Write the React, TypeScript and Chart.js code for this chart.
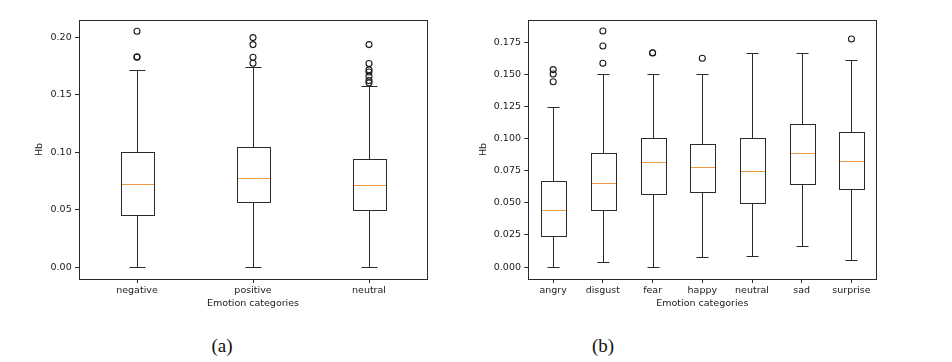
import React, { useEffect, useRef } from 'react';
import { Chart, registerables } from 'chart.js';
Chart.register(...registerables);

// ---- Panel (a) ----
const catsA = ['negative', 'positive', 'neutral'];
const q1A = [0.0452, 0.0562, 0.05];
const medA = [0.0722, 0.0777, 0.0716];
const q3A = [0.1, 0.1041, 0.0939];
const loA = [0, 0, 0];
const hiA = [0.1716, 0.1745, 0.1574];
const outA = [
  [0.2052, 0.1826, 0.183],
  [0.1997, 0.1936, 0.1826, 0.1774],
  [0.1936, 0.1771, 0.1716, 0.1698, 0.1661, 0.1623, 0.1603],
];

// ---- Panel (b) ----
const catsB = ['angry', 'disgust', 'fear', 'happy', 'neutral', 'sad', 'surprise'];
const q1B = [0.0244, 0.0441, 0.0568, 0.0584, 0.05, 0.0643, 0.0609];
const medB = [0.0441, 0.0654, 0.0817, 0.0776, 0.0747, 0.089, 0.0827];
const q3B = [0.0667, 0.089, 0.1001, 0.0955, 0.1001, 0.111, 0.1053];
const loB = [0, 0.0036, 0, 0.008, 0.0086, 0.0163, 0.0054];
const hiB = [0.1248, 0.15, 0.15, 0.15, 0.1665, 0.1665, 0.1608];
const outB = [
  [0.1536, 0.1502, 0.1442],
  [0.1837, 0.172, 0.1585],
  [0.1665, 0.1667],
  [0.1624],
  [],
  [],
  [0.1774],
];

const FONT = "'DejaVu Sans', sans-serif";
const INK = '#2a2a2a';
const TXT = '#1a1a1a';
const MEDIAN = '#f39a45';

type BoxProps = {
  cats: string[]; q1: number[]; med: number[]; q3: number[]; lo: number[]; hi: number[]; out: number[][];
  yMin: number; yMax: number; step: number; dec: number; barPct: number;
  left: number; width: number; padLeft: number; padRight: number; yWidth: number;
};

function BoxChart(p: BoxProps) {
  const ref = useRef<HTMLCanvasElement>(null);
  useEffect(() => {
    const canvas = ref.current!;
    const px = (v: number) => Math.round(v) + 0.5;
    const extras = {
      id: 'boxExtras',
      afterDatasetsDraw(chart: any) {
        const { ctx, chartArea, scales } = chart;
        const x = scales.x, y = scales.y;
        const meta = chart.getDatasetMeta(0);
        ctx.save();
        ctx.lineWidth = 1;
        p.cats.forEach((_c, i) => {
          const bar: any = meta.data[i];
          const half = bar.width / 2;
          const cx = px(x.getPixelForValue(i));
          const bl = px(cx - half), br = px(cx + half);
          const yq1 = px(y.getPixelForValue(p.q1[i]));
          const yq3 = px(y.getPixelForValue(p.q3[i]));
          const ylo = px(y.getPixelForValue(p.lo[i]));
          const yhi = px(y.getPixelForValue(p.hi[i]));
          const ymed = px(y.getPixelForValue(p.med[i]));
          const cap = Math.round(half / 2);
          ctx.strokeStyle = INK;
          ctx.beginPath();
          ctx.moveTo(cx, yq1); ctx.lineTo(cx, ylo);
          ctx.moveTo(cx, yq3); ctx.lineTo(cx, yhi);
          ctx.moveTo(cx - cap, ylo); ctx.lineTo(cx + cap, ylo);
          ctx.moveTo(cx - cap, yhi); ctx.lineTo(cx + cap, yhi);
          ctx.stroke();
          ctx.strokeRect(bl, yq3, br - bl, yq1 - yq3);
          ctx.strokeStyle = MEDIAN;
          ctx.beginPath();
          ctx.moveTo(bl + 0.5, ymed); ctx.lineTo(br - 0.5, ymed);
          ctx.stroke();
        });
        ctx.strokeStyle = INK;
        const l = px(chartArea.left), t = px(chartArea.top);
        const r = px(chartArea.right), b = px(chartArea.bottom);
        ctx.strokeRect(l, t, r - l, b - t);
        ctx.restore();
      },
    };
    const outliers: { x: string; y: number }[] = [];
    p.out.forEach((arr, i) => arr.forEach((v) => outliers.push({ x: p.cats[i], y: v })));
    const chart = new Chart(canvas, {
      type: 'bar',
      data: {
        labels: p.cats,
        datasets: [
          {
            type: 'bar',
            data: p.cats.map((_c, i) => [p.q1[i], p.q3[i]]),
            backgroundColor: 'rgba(255,255,255,0)',
            borderColor: 'rgba(0,0,0,0)',
            borderWidth: 0,
            barPercentage: p.barPct,
            categoryPercentage: 1,
          } as any,
          {
            type: 'scatter',
            data: outliers as any,
            pointStyle: 'circle',
            radius: 3,
            pointRadius: 3,
            backgroundColor: 'rgba(255,255,255,0)',
            borderColor: '#1a1a1a',
            borderWidth: 1.1,
          } as any,
        ],
      },
      options: {
        responsive: false,
        animation: false,
        devicePixelRatio: 1,
        layout: { padding: { left: p.padLeft, right: p.padRight, top: 20, bottom: 21 } },
        plugins: { legend: { display: false }, tooltip: { enabled: false } },
        scales: {
          x: {
            type: 'category',
            offset: true,
            grid: { display: true, drawOnChartArea: false, drawTicks: true, tickLength: 4, tickColor: INK, offset: false },
            border: { display: false },
            ticks: { color: TXT, font: { family: FONT, size: 9.5 }, padding: 1.5, maxRotation: 0 },
            title: { display: true, text: 'Emotion categories', color: TXT, font: { family: FONT, size: 9.5 }, padding: 0 },
            afterFit: (s: any) => { s.height = 30; },
          },
          y: {
            type: 'linear',
            min: p.yMin,
            max: p.yMax,
            grid: { display: true, drawOnChartArea: false, drawTicks: true, tickLength: 4, tickColor: INK },
            border: { display: false },
            ticks: {
              stepSize: p.step,
              includeBounds: false,
              color: TXT,
              font: { family: FONT, size: 9.5 },
              padding: 3.3,
              callback: (v: any) => Number(v).toFixed(p.dec),
            },
            title: { display: true, text: 'Hb', color: TXT, font: { family: FONT, size: 9.5 }, padding: 0 },
            afterFit: (s: any) => { s.width = p.yWidth; },
          },
        },
      },
      plugins: [extras],
    });
    return () => chart.destroy();
  }, []);
  return (
    <canvas
      ref={ref}
      width={p.width}
      height={330}
      style={{ position: 'absolute', left: p.left, top: 0, width: p.width, height: 330 }}
    />
  );
}

export default function App() {
  const lab: React.CSSProperties = {
    position: 'absolute',
    transform: 'translate(-50%, -50%)',
    fontFamily: "'Liberation Serif', 'Times New Roman', serif",
    fontSize: 19,
    color: '#111',
    whiteSpace: 'nowrap',
  };
  return (
    <div style={{ position: 'absolute', left: 0, top: 0, width: 952, height: 362, background: '#fff', overflow: 'hidden' }}>
      <BoxChart
        cats={catsA} q1={q1A} med={medA} q3={q3A} lo={loA} hi={hiA} out={outA}
        yMin={-0.0104} yMax={0.215} step={0.05} dec={2} barPct={0.29}
        left={0} width={470} padLeft={34.3} padRight={43} yWidth={44.7}
      />
      <BoxChart
        cats={catsB} q1={q1B} med={medB} q3={q3B} lo={loB} hi={hiB} out={outB}
        yMin={-0.0093} yMax={0.1922} step={0.025} dec={3} barPct={0.5}
        left={470} width={482} padLeft={7.6} padRight={75.7} yWidth={50.7}
      />
      <div style={{ ...lab, left: 222, top: 346 }}>(a)</div>
      <div style={{ ...lab, left: 603, top: 346 }}>(b)</div>
    </div>
  );
}
